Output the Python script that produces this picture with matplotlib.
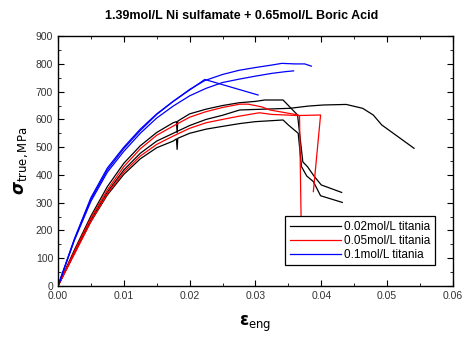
import matplotlib
matplotlib.use("Agg")
import matplotlib.pyplot as plt
from matplotlib.ticker import MultipleLocator

plt.rcParams['font.family'] = ['Liberation Sans', 'DejaVu Sans']
plt.rcParams['mathtext.fontset'] = 'dejavusans'

# strain (eng) vs true stress (MPa)
blk1_x = [0, 0.0025, 0.005, 0.0075, 0.01, 0.0125, 0.015, 0.0175, 0.0180, 0.0181, 0.0182, 0.02, 0.0225,
          0.025, 0.0275, 0.03, 0.0314, 0.0342, 0.0364, 0.0372, 0.0379, 0.0389, 0.040, 0.0431]
blk1_y = [0, 130, 252, 358, 442, 505, 553, 588, 592, 552, 594, 620, 637,
          650, 660, 665, 670, 670, 616, 447, 430, 396, 364, 337]

blk2_x = [0, 0.0025, 0.005, 0.0075, 0.01, 0.0125, 0.015, 0.0175, 0.02, 0.0225, 0.025, 0.0276,
          0.03, 0.0352, 0.038, 0.0403, 0.0438, 0.0463, 0.0479, 0.0492, 0.0541]
blk2_y = [0, 122, 238, 338, 418, 478, 522, 550, 578, 600, 615, 634,
          636, 640, 648, 652, 654, 640, 616, 580, 496]

blk3_x = [0, 0.0025, 0.005, 0.0075, 0.01, 0.0125, 0.015, 0.0175, 0.0180, 0.0181, 0.0182, 0.02, 0.0225,
          0.025, 0.0276, 0.03, 0.0342, 0.035, 0.0365, 0.037, 0.0378, 0.0388, 0.0399, 0.0432]
blk3_y = [0, 118, 232, 328, 402, 458, 498, 522, 530, 492, 532, 550, 565,
          575, 585, 592, 598, 580, 550, 430, 396, 376, 325, 301]

red1_x = [0, 0.0025, 0.005, 0.0075, 0.01, 0.0125, 0.015, 0.0175, 0.02, 0.0225, 0.025, 0.0276,
          0.0289, 0.031, 0.0322, 0.0365, 0.0367, 0.0370]
red1_y = [0, 125, 245, 346, 430, 494, 543, 576, 608, 628, 643, 655,
          655, 645, 634, 616, 612, 150]

red2_x = [0, 0.0025, 0.005, 0.0075, 0.01, 0.0125, 0.015, 0.0175, 0.02, 0.0225, 0.025, 0.0276,
          0.0306, 0.0325, 0.0365, 0.0399, 0.0388]
red2_y = [0, 115, 232, 332, 410, 468, 510, 540, 568, 588, 600, 612,
          624, 618, 614, 616, 340]

blu1_x = [0, 0.0025, 0.005, 0.0075, 0.01, 0.0125, 0.015, 0.0175, 0.02, 0.0223, 0.025, 0.0275,
          0.03, 0.0325, 0.034, 0.036, 0.0375, 0.0385]
blu1_y = [0, 170, 318, 425, 500, 565, 620, 665, 708, 740, 762, 777,
          787, 796, 802, 800, 800, 792]

blu2_x = [0, 0.0025, 0.005, 0.0075, 0.01, 0.0125, 0.015, 0.0175, 0.02, 0.0225, 0.025, 0.0275,
          0.03, 0.0325, 0.0345, 0.0358]
blu2_y = [0, 165, 305, 410, 485, 550, 605, 648, 685, 712, 733, 745,
          756, 766, 772, 775]

blu3_x = [0, 0.0025, 0.005, 0.0075, 0.01, 0.0125, 0.015, 0.0175, 0.02, 0.0223, 0.0304]
blu3_y = [0, 168, 312, 418, 495, 560, 618, 665, 706, 744, 688]

labels = ['0.02mol/L titania', '0.05mol/L titania', '0.1mol/L titania']

fig = plt.figure(figsize=(4.64, 3.38), dpi=100)
ax = fig.add_axes([0.125, 0.154, 0.851, 0.739])

lw = 0.9
ax.plot(blk1_x, blk1_y, color='black', lw=lw, label=labels[0])
ax.plot(blk2_x, blk2_y, color='black', lw=lw)
ax.plot(blk3_x, blk3_y, color='black', lw=lw)
ax.plot(red1_x, red1_y, color='red', lw=lw, label=labels[1])
ax.plot(red2_x, red2_y, color='red', lw=lw)
ax.plot(blu1_x, blu1_y, color='blue', lw=lw, label=labels[2])
ax.plot(blu2_x, blu2_y, color='blue', lw=lw)
ax.plot(blu3_x, blu3_y, color='blue', lw=lw)

ax.set_xlim(0, 0.06)
ax.set_ylim(0, 900)
ax.xaxis.set_major_locator(MultipleLocator(0.01))
ax.xaxis.set_minor_locator(MultipleLocator(0.005))
ax.yaxis.set_major_locator(MultipleLocator(100))
ax.yaxis.set_minor_locator(MultipleLocator(50))
ax.xaxis.set_major_formatter(plt.FuncFormatter(lambda v, p: '%.2f' % v))
ax.tick_params(which='both', direction='in', top=True, right=True,
               labelsize=7.5, labelcolor='#333333')
ax.tick_params(which='major', length=4)
ax.tick_params(which='minor', length=2.5)
for s in ax.spines.values():
    s.set_linewidth(1.0)

fig.text(242 / 464, 1 - 16 / 338, '1.39mol/L Ni sulfamate + 0.65mol/L Boric Acid',
         fontsize=9, fontweight='bold', ha='center', va='center')
ax.set_xlabel(r'$\boldsymbol{\varepsilon}_{\mathrm{eng}}$', fontsize=12, labelpad=9)
ax.set_ylabel(r'$\boldsymbol{\sigma}_{\mathrm{true,MPa}}$', fontsize=12, labelpad=4)

leg = ax.legend(loc='lower right', bbox_to_anchor=(0.955, 0.082), fontsize=8.5,
                frameon=True, fancybox=False, edgecolor='black', framealpha=1,
                handlelength=4.3, borderpad=0.4, labelspacing=0.15, handletextpad=0.3,
                borderaxespad=0)
leg.get_frame().set_linewidth(0.9)

fig.savefig('out.png', dpi=100)
